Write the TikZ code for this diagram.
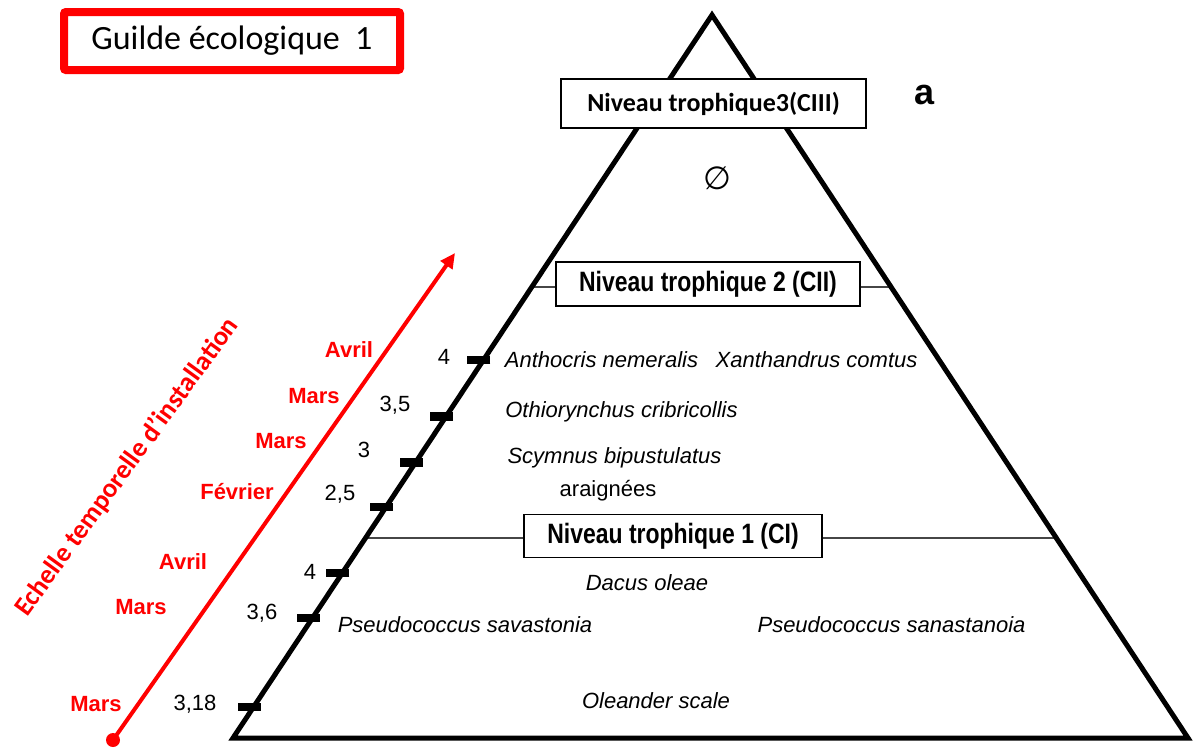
\documentclass[tikz,border=0pt]{standalone}
\usepackage{fontspec}
\setmainfont{Liberation Sans}
\newfontfamily\calib{Carlito}
\newfontfamily\narrowfont[FakeStretch=0.82]{Liberation Sans}
\newfontfamily\symfont{DejaVu Sans}
\usetikzlibrary{arrows.meta,calc}
\definecolor{scalered}{RGB}{255,0,0}
\definecolor{levelgray}{RGB}{70,70,70}

\begin{document}
\begin{tikzpicture}[x=1pt,y=-1pt,
  pyramid/.style={line width=5pt,line join=miter},
  levelline/.style={draw=levelgray,line width=1.6pt},
  levelbox/.style={draw=black,line width=1.5pt,fill=white,inner sep=0pt,align=center},
  species/.style={font=\fontsize{22}{25}\selectfont\itshape,inner sep=0pt},
  plain/.style={font=\fontsize{22}{25}\selectfont,inner sep=0pt},
  tickbar/.style={line width=8.5pt},
  ticklabel/.style={font=\fontsize{22}{25}\selectfont,inner sep=0pt},
  month/.style={font=\fontsize{22}{25}\selectfont\bfseries,text=scalered,inner sep=0pt},
  timeline/.style={draw=scalered,line width=4pt,-{Triangle[length=15pt,width=14pt]}}
]
\useasboundingbox (0,0) rectangle (1193,748);

% pyramid corners
\coordinate (apex) at (712,15);
\coordinate (bl) at (233,738);
\coordinate (br) at (1188,738);

% level boundaries on both sides
\coordinate (c2l) at ($(apex)!0.3762!(bl)$);
\coordinate (c2r) at ($(apex)!0.3762!(br)$);
\coordinate (c1l) at ($(apex)!0.7234!(bl)$);
\coordinate (c1r) at ($(apex)!0.7234!(br)$);

% level boxes
\node[levelbox,minimum width=304pt,minimum height=44pt,
      font=\narrowfont\bfseries\fontsize{28}{32}\selectfont] (cii) at (708,284) {Niveau trophique 2 (CII)};
\node[levelbox,minimum width=298pt,minimum height=43pt,
      font=\narrowfont\bfseries\fontsize{28}{32}\selectfont] (ci) at (673,536) {Niveau trophique 1 (CI)};

% level separators, kept horizontal
\draw[levelline] (c2l) -- (c2l -| cii.west);
\draw[levelline] (c2r -| cii.east) -- (c2r);
\draw[levelline] (c1l) -- (c1l -| ci.west);
\draw[levelline] (c1r -| ci.east) -- (c1r);

% pyramid outline
\draw[pyramid] (apex) -- (bl) -- (br) -- cycle;

% top level box, over the outline
\node[levelbox,minimum width=305pt,minimum height=49pt,
      font=\calib\bfseries\fontsize{26}{30}\selectfont] (ciii) at (713.5,103.5) {Niveau trophique3(CIII)};

% title
\node[draw=scalered,line width=8pt,rounded corners=2pt,minimum width=336pt,minimum height=58pt,
      inner sep=0pt,font=\calib\fontsize{34}{40}\selectfont] (guild) at (232,41) {Guilde écologique\ \ 1};
\node[font=\bfseries\fontsize{36}{40}\selectfont,inner sep=0pt] (panel) at (924,95) {a};

% empty top level
\node[font=\symfont\fontsize{32}{36}\selectfont,inner sep=0pt] (empty) at (717,178) {∅};

% species of level 2
\node[species] (s1) at (601.5,360) {Anthocris nemeralis};
\node[species] (s2) at (816.5,360) {Xanthandrus comtus};
\node[species] (s3) at (621.5,412) {Othiorynchus cribricollis};
\node[species] (s4) at (614.5,458) {Scymnus bipustulatus};
\node[plain]   (s5) at (608,491) {araignées};

% species of level 1
\node[species] (p1) at (647,583) {Dacus oleae};
\node[species] (p2) at (465,625) {Pseudococcus savastonia};
\node[species] (p3) at (891.5,625) {Pseudococcus sanastanoia};
\node[species] (p4) at (656,701) {Oleander scale};

% ticks on the left edge with their values
\foreach \name/\t/\lx/\ly/\val in {
    k1/0.4772/444/357/4,
    k2/0.5553/395/405/{3,5},
    k3/0.6189/364/450/3,
    k4/0.6805/340/494/{2,5},
    k5/0.7718/310/572/4,
    k6/0.8340/262/613/{3,6},
    k7/0.9571/195/704/{3,18}} {
  \coordinate (\name) at ($(apex)!\t!(bl)$);
  \draw[tickbar] ($(\name)+(7,0)$) -- ($(\name)+(-16,0)$);
  \node[ticklabel] (\name lab) at (\lx,\ly) {\val};
}

% time scale
\coordinate (tstart) at (113,740);
\coordinate (tend) at (455,253);
\draw[timeline] (tstart) -- (tend);
\fill[scalered] (tstart) circle (7);

\node[month] (m1) at (349,350) {Avril};
\node[month] (m2) at (314,396) {Mars};
\node[month] (m3) at (281,441) {Mars};
\node[month] (m4) at (237,492) {Février};
\node[month] (m5) at (183,562) {Avril};
\node[month] (m6) at (141,607) {Mars};
\node[month] (m7) at (96,704) {Mars};

\node[rotate=54,text=scalered,font=\calib\bfseries\fontsize{27}{30}\selectfont,inner sep=0pt]
  (scale) at (127,467) {Echelle temporelle d’installation};
\end{tikzpicture}
\end{document}
